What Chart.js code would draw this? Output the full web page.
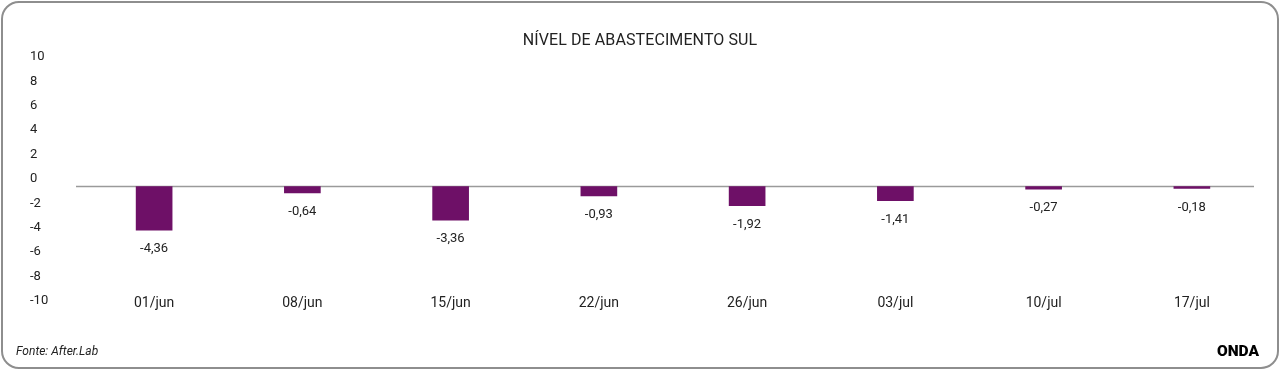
<!DOCTYPE html>
<html>
<head>
<meta charset="utf-8">
<script src="https://cdn.jsdelivr.net/npm/chart.js@4/dist/chart.umd.min.js"></script>
<style>
  html, body { margin: 0; padding: 0; background: #fff; }
  #wrap { position: relative; width: 1280px; height: 370px; overflow: hidden; }
  #card { position: absolute; left: 1px; top: 1px; width: 1274px; height: 364px;
          border: 2px solid #8e8e8e; border-radius: 18px; box-sizing: content-box; }
  #title { position: absolute; left: 0; width: 1280px; top: 30px; text-align: center;
           font-family: Roboto, sans-serif; font-size: 16px; color: #222; letter-spacing: 0.1px; }
  #src { position: absolute; left: 16px; top: 344px; font-family: Roboto, sans-serif;
         font-style: italic; font-size: 12px; color: #222; }
  #logo { position: absolute; left: 1217px; top: 342px; font-family: Roboto, sans-serif;
          font-weight: 900; font-size: 15.5px; color: #000; }
  canvas { position: absolute; left: 0; top: 0; }
</style>
</head>
<body>
<div id="wrap">
  <div id="card"></div>
  <canvas id="c" width="1280" height="370"></canvas>
  <div id="title">NÍVEL DE ABASTECIMENTO SUL</div>
  <div id="src">Fonte: After.Lab</div>
  <div id="logo">ONDA</div>
</div>
<script>
const categories = ['01/jun', '08/jun', '15/jun', '22/jun', '26/jun', '03/jul', '10/jul', '17/jul'];
const values = [-4.36, -0.64, -3.36, -0.93, -1.92, -1.41, -0.27, -0.18];
const yTicks = [10, 8, 6, 4, 2, 0, -2, -4, -6, -8, -10];

const fmt = v => v.toFixed(2).replace('.', ',');

const zeroLine = {
  id: 'zeroLine',
  beforeDatasetsDraw(chart) {
    const s = chart.scales.y2, a = chart.chartArea, ctx = chart.ctx;
    const y = s.getPixelForValue(0);
    ctx.save();
    ctx.strokeStyle = '#9a9a9a';
    ctx.lineWidth = 1.5;
    ctx.beginPath();
    ctx.moveTo(a.left - 4, y);
    ctx.lineTo(a.right - 12, y);
    ctx.stroke();
    ctx.restore();
  }
};

const valueLabels = {
  id: 'valueLabels',
  afterDatasetsDraw(chart) {
    const ctx = chart.ctx;
    const meta = chart.getDatasetMeta(0);
    ctx.save();
    ctx.font = '13px Roboto, sans-serif';
    ctx.fillStyle = '#222';
    ctx.textAlign = 'center';
    ctx.textBaseline = 'middle';
    meta.data.forEach((bar, i) => {
      ctx.fillText(fmt(values[i]), bar.x, bar.y + 19);
    });
    ctx.restore();
  }
};

new Chart(document.getElementById('c'), {
  type: 'bar',
  data: {
    labels: categories,
    datasets: [{
      data: values,
      yAxisID: 'y2',
      backgroundColor: '#6e1067',
      borderWidth: 0,
      barThickness: 36
    }]
  },
  options: {
    responsive: false,
    animation: false,
    devicePixelRatio: 1,
    layout: { padding: { left: 30, right: 14, top: 55, bottom: 58 } },
    plugins: { legend: { display: false }, tooltip: { enabled: false }, title: { display: false } },
    scales: {
      x: {
        grid: { display: false, drawTicks: false },
        border: { display: false },
        ticks: { color: '#222', font: { family: 'Roboto, sans-serif', size: 14, lineHeight: 1.2 }, padding: 0,
                 maxRotation: 0, autoSkip: false },
        afterFit(s) { s.height = 17; }
      },
      y: {
        position: 'left',
        min: -9.672, max: 10,
        grid: { display: false, drawTicks: false },
        border: { display: false },
        afterBuildTicks(s) { s.ticks = yTicks.map(v => ({ value: v })); },
        afterFit(s) { s.width = 50; },
        ticks: { color: '#222', crossAlign: 'far', padding: 0, labelOffset: 2,
                 font: { family: 'Roboto, sans-serif', size: 13 } }
      },
      y2: {
        display: false,
        min: -10.85, max: 13.15
      }
    }
  },
  plugins: [zeroLine, valueLabels]
});
</script>
</body>
</html>
